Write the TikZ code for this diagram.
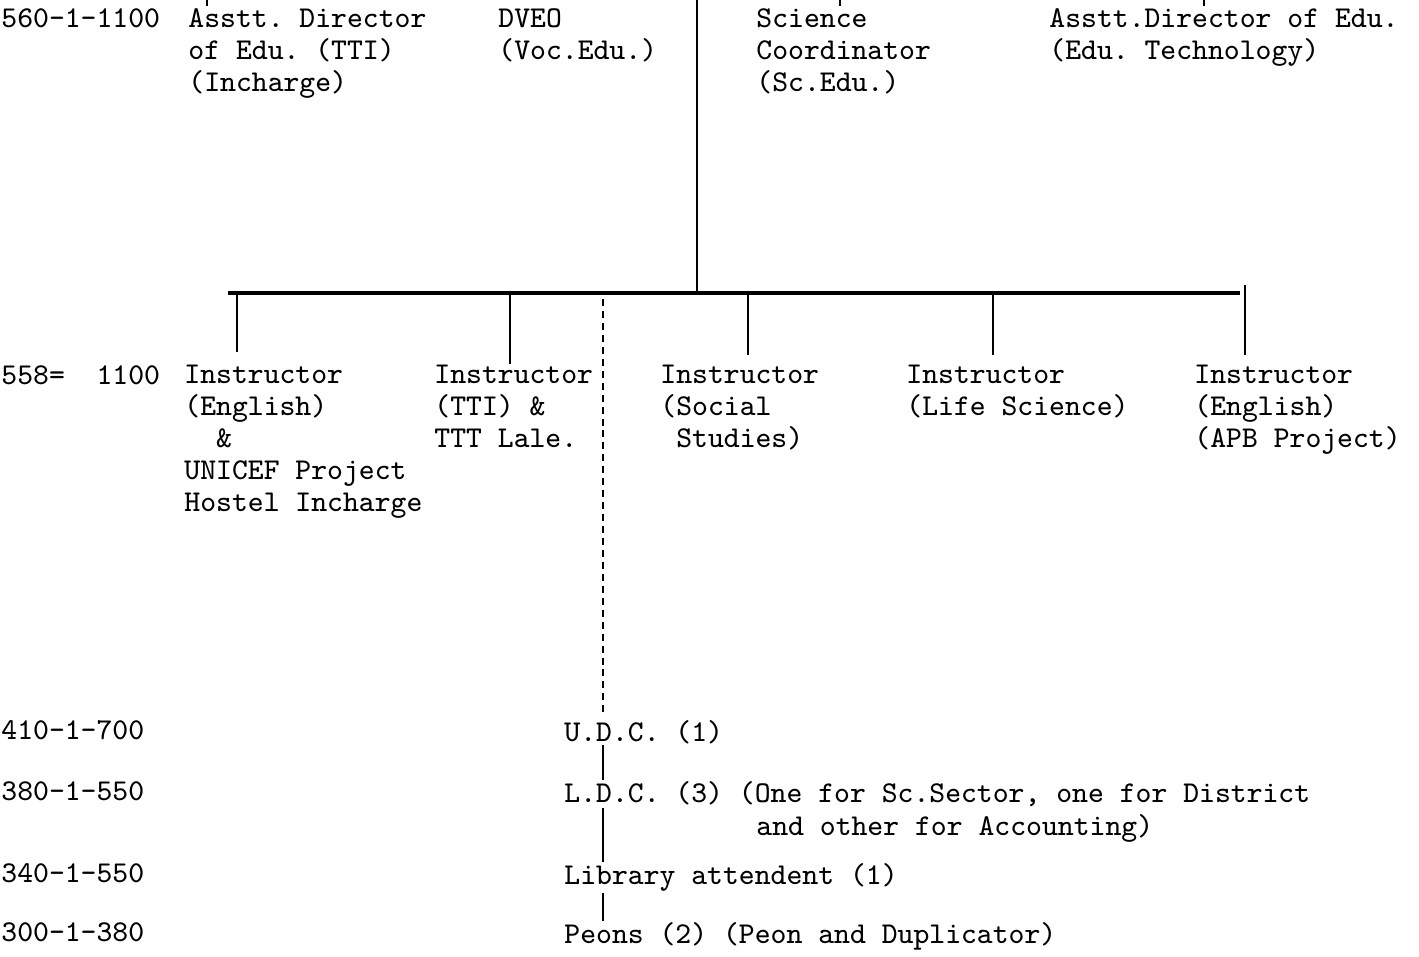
\documentclass[tikz,border=0pt]{standalone}
\usepackage{tikz}
\usetikzlibrary{positioning, calc}

\begin{document}
\begin{tikzpicture}[x=0.1mm, y=-0.1mm, line width=0.8pt,
    txt/.style={anchor=north west, inner sep=0pt, align=left,
        font=\ttfamily\frenchspacing\fontsize{8.6}{9.1}\selectfont},
    gehalt/.style={txt},
    dashline/.style={dash pattern=on 2pt off 1.4pt}]

    % Parametrisierung (Koordinaten in Pixeln der Vorlage)
    \def\yRowA{7}      % obere Reihe
    \def\yRowB{364}    % Reihe der Instruktoren
    \def\yBar{293}     % horizontale Sammellinie
    \def\xTrunk{697}   % senkrechter Hauptstrang
    \def\xStaff{603}   % Strang zum Bueropersonal

    \useasboundingbox (0,0) rectangle (1419,956);

    % --- Obere Reihe ---
    \node[gehalt] (payA) at (0,\yRowA) {560-1-1100};
    \node[txt] (adTTI) at (187,\yRowA) {Asstt. Director\\of Edu. (TTI)\\(Incharge)};
    \node[txt] (dveo) at (497,\yRowA) {DVEO\\(Voc.Edu.)};
    \node[txt] (scCoord) at (755,\yRowA) {Science\\Coordinator\\(Sc.Edu.)};
    \node[txt] (adTech) at (1048,\yRowA) {Asstt.Director of Edu.\\(Edu. Technology)};

    % Reste der Linien von oben
    \foreach \x in {207,840,1204}
        \draw (\x,0) -- (\x,6);

    % Hauptstrang und Sammellinie
    \coordinate (trunkTop) at (\xTrunk,0);
    \coordinate (barL) at (228,\yBar);
    \coordinate (barR) at (1240,\yBar);
    \draw (trunkTop) -- (trunkTop |- barL);
    \draw[line width=1pt] (barL) -- (barR);

    % --- Instruktoren ---
    \node[gehalt] (payB) at (0,\yRowB) {558=~~1100};
    \node[txt] (instrEng) at (183,\yRowB) {Instructor\\(English)\\~~\&\\UNICEF Project\\Hostel Incharge};
    \node[txt] (instrTTI) at (433,\yRowB) {Instructor\\(TTI) \&\\TTT Lale.};
    \node[txt] (instrSoc) at (659,\yRowB) {Instructor\\(Social\\~Studies)};
    \node[txt] (instrLife) at (905,\yRowB) {Instructor\\(Life Science)};
    \node[txt] (instrAPB) at (1193,\yRowB) {Instructor\\(English)\\(APB Project)};

    % Abzweigungen von der Sammellinie
    \coordinate (bEng) at (237,\yBar);
    \coordinate (bTTI) at (510,\yBar);
    \coordinate (bSoc) at (748,\yBar);
    \coordinate (bLife) at (993,\yBar);
    \coordinate (bAPB) at (1245,\yBar-8);
    \draw (bEng) -- ($(bEng |- instrEng.north)+(0,-12)$);
    \draw (bTTI) -- (bTTI |- instrTTI.north);
    \draw (bSoc) -- ($(bSoc |- instrSoc.north)+(0,-9)$);
    \draw (bLife) -- ($(bLife |- instrLife.north)+(0,-9)$);
    \draw (bAPB) -- ($(bAPB |- instrAPB.north)+(0,-9)$);

    % --- Bueropersonal ---
    \node[gehalt] (payC) at (0,719) {410-1-700};
    \node[gehalt] (payD) at (0,780) {380-1-550};
    \node[gehalt] (payE) at (0,862) {340-1-550};
    \node[gehalt] (payF) at (0,921) {300-1-380};

    \node[txt] (udc) at (563,719) {U.D.C. (1)};
    \node[txt] (ldc) at (563,780) {L.D.C. (3) (One for Sc.Sector, one for District};
    \node[txt] (ldcMore) at (755,813) {and other for Accounting)};
    \node[txt] (lib) at (563,862) {Library attendent (1)};
    \node[txt] (peons) at (563,921) {Peons (2) (Peon and Duplicator)};

    % gestrichelte Verbindung und Kette nach unten
    \coordinate (sTop) at (\xStaff,\yBar+6);
    \draw[dashline] (sTop) -- ($(sTop |- udc.north)+(0,-7)$);
    \draw (sTop |- udc.south) -- (sTop |- ldc.north);
    \draw (sTop |- ldc.south) -- (sTop |- lib.north);
    \draw (sTop |- lib.south) -- (sTop |- peons.north);

\end{tikzpicture}
\end{document}
